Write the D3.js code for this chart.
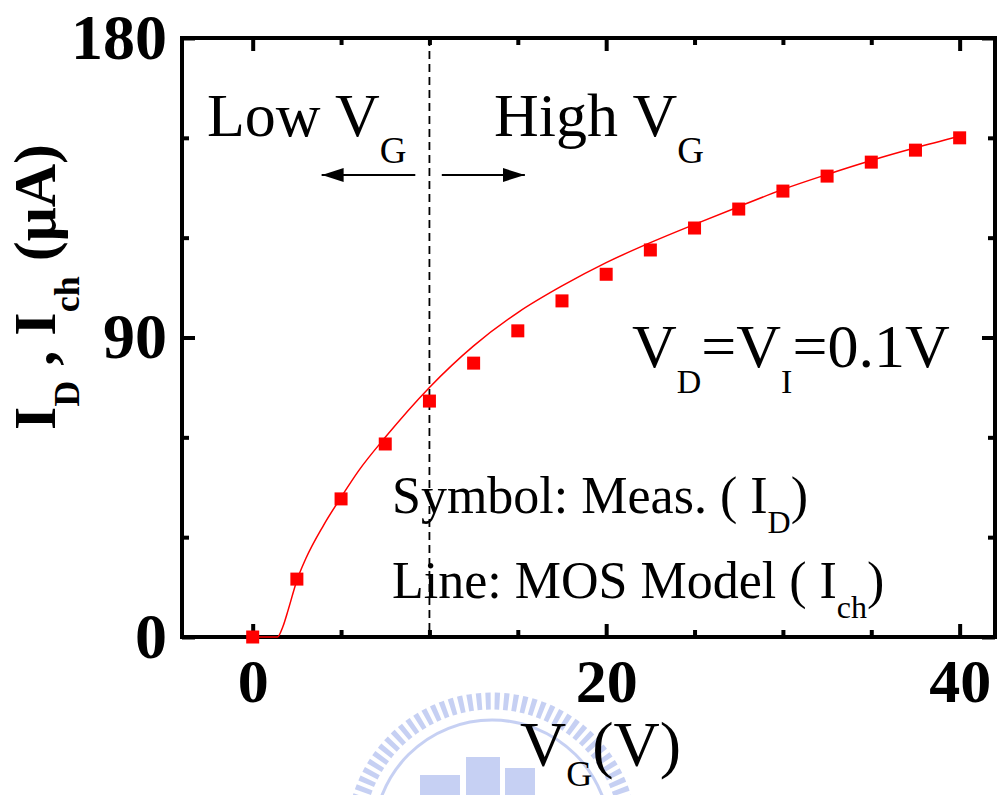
<!DOCTYPE html>
<html>
<head>
<meta charset="utf-8">
<script src="https://cdn.jsdelivr.net/npm/d3@7"></script>
<style>
  body { margin: 0; background: #fff; }
  svg { display: block; }
</style>
</head>
<body>
<svg id="chart"></svg>
<script>
// measured points (symbols)
const vgMeas = [0, 2.5, 5, 7.5, 10, 12.5, 15, 17.5, 20, 22.5, 25, 27.5, 30, 32.5, 35, 37.5, 40];
const idMeas = [0, 17.4, 41.5, 58, 70.9, 82.3, 92, 101, 109, 116.3, 122.9, 128.6, 134, 138.5, 142.7, 146.3, 150];

// MOS model line
const vgModel = [0, 1.4, 1.7, 2, 2.5, 3, 4, 5, 6, 7.5, 10, 12.5, 15, 17.5, 20, 22.5, 25, 27.5, 30, 32.5, 35, 37.5, 40];
const ichModel = [0, 0, 3, 8, 17, 23.5, 33.5, 42, 50, 60, 75, 87.5, 97.5, 105.5, 112.5, 118.5, 124, 129.3, 134.5, 139, 143.2, 147, 150.5];

const xMajor = [0, 20, 40];
const xMinor = [5, 10, 15, 25, 30, 35];
const yMajor = [0, 90, 180];
const yMinor = [30, 60, 120, 150];

const width = 998, height = 795;
const serif = '"Times New Roman", "Liberation Serif", serif';

const svg = d3.select('#chart').attr('width', width).attr('height', height)

const x = d3.scaleLinear().domain([-4, 42]).range([182, 995]);
const y = d3.scaleLinear().domain([0, 180]).range([637, 38]);

// watermark (faint logo behind the axis title)
const wm = svg.append('g').attr('opacity', 0.5)
wm.append('circle')
  .attr('cx', 492).attr('cy', 838).attr('r', 137)
  .attr('fill', 'none')
  .attr('stroke', '#8ea2e8')
  .attr('stroke-width', 17)
  .attr('stroke-dasharray', '5 4')
wm.append('circle')
  .attr('cx', 492).attr('cy', 838).attr('r', 118)
  .attr('fill', 'none')
  .attr('stroke', '#8ea2e8')
  .attr('stroke-width', 3)
;[[420, 775, 40, 20], [466, 757, 34, 38], [505, 768, 30, 27]].forEach(r => {
  wm.append('rect').attr('x', r[0]).attr('y', r[1]).attr('width', r[2]).attr('height', r[3])
    .attr('fill', '#8ea2e8')
})

// ticks (inward, all four sides)
function tickAxis(axis, vals, len, tr) {
  const g = svg.append('g').attr('transform', tr)
    .call(axis.tickValues(vals).tickSize(-len).tickFormat(''))
  g.select('.domain').remove()
  g.selectAll('line').attr('stroke', '#000').attr('stroke-width', 4)
  return g
}
tickAxis(d3.axisBottom(x), xMajor, 13, 'translate(0,637)')
tickAxis(d3.axisBottom(x), xMinor, 7, 'translate(0,637)')
tickAxis(d3.axisTop(x), xMajor, 13, 'translate(0,38)')
tickAxis(d3.axisTop(x), xMinor, 7, 'translate(0,38)')
tickAxis(d3.axisLeft(y), yMajor, 13, 'translate(182,0)')
tickAxis(d3.axisLeft(y), yMinor, 7, 'translate(182,0)')
tickAxis(d3.axisRight(y), yMajor, 13, 'translate(995,0)')
tickAxis(d3.axisRight(y), yMinor, 7, 'translate(995,0)')

// tick labels
const xl = svg.append('g').attr('transform', 'translate(0,637)')
  .call(d3.axisBottom(x).tickValues(xMajor).tickSize(0).tickPadding(21))
xl.select('.domain').remove()
xl.selectAll('text').attr('font-family', serif).attr('font-weight', 'bold')
  .attr('font-size', 62).attr('fill', '#000')

const yl = svg.append('g').attr('transform', 'translate(182,0)')
  .call(d3.axisLeft(y).tickValues(yMajor).tickSize(0).tickPadding(15))
yl.select('.domain').remove()
yl.selectAll('text').attr('font-family', serif).attr('font-weight', 'bold')
  .attr('font-size', 64).attr('fill', '#000')

// frame
svg.append('rect')
  .attr('x', 182).attr('y', 38)
  .attr('width', 995 - 182).attr('height', 637 - 38)
  .attr('fill', 'none').attr('stroke', '#000').attr('stroke-width', 4)

// dashed separator at VG = 10
svg.append('line')
  .attr('x1', x(10)).attr('x2', x(10))
  .attr('y1', y(180)).attr('y2', y(0))
  .attr('stroke', '#000').attr('stroke-width', 1.8)
  .attr('stroke-dasharray', '8 5')

// model line
const line = d3.line().x(d => x(d[0])).y(d => y(d[1])).curve(d3.curveMonotoneX)
svg.append('path')
  .datum(d3.zip(vgModel, ichModel))
  .attr('d', line)
  .attr('fill', 'none')
  .attr('stroke', '#ff0000')
  .attr('stroke-width', 1.5)

// measured symbols
svg.append('g').selectAll('rect')
  .data(d3.zip(vgMeas, idMeas))
  .enter()
  .append('rect')
  .attr('x', d => x(d[0]) - 6.5)
  .attr('y', d => y(d[1]) - 6.5)
  .attr('width', 13).attr('height', 13)
  .attr('fill', '#ff0000')

// arrows
svg.append('defs').append('marker')
  .attr('id', 'arr')
  .attr('viewBox', '0 0 22 14')
  .attr('refX', 22).attr('refY', 7)
  .attr('markerWidth', 22).attr('markerHeight', 14)
  .attr('markerUnits', 'userSpaceOnUse')
  .attr('orient', 'auto')
  .append('path').attr('d', 'M0,0 L22,7 L0,14 Z').attr('fill', '#000')

svg.append('line')
  .attr('x1', x(9.2)).attr('x2', x(3.9)).attr('y1', 175).attr('y2', 175)
  .attr('stroke', '#000').attr('stroke-width', 2).attr('marker-end', 'url(#arr)')
svg.append('line')
  .attr('x1', x(10.7)).attr('x2', x(15.4)).attr('y1', 175).attr('y2', 175)
  .attr('stroke', '#000').attr('stroke-width', 2).attr('marker-end', 'url(#arr)')

// text helper with subscripts: parts = [[text, isSub], ...]
function label(px, py, size, subSize, subDy, parts, opts = {}) {
  const t = svg.append('text')
    .attr('x', px).attr('y', py)
    .attr('font-family', serif)
    .attr('font-size', size)
    .attr('font-weight', opts.bold ? 'bold' : 'normal')
    .attr('fill', '#000')
  if (opts.rotate) t.attr('transform', `rotate(-90,${px},${py})`).attr('text-anchor', 'middle')
  let lastSub = false
  parts.forEach(p => {
    const s = t.append('tspan').text(p[0])
    if (p[1]) {
      s.attr('font-size', subSize).attr('dy', subDy)
    } else {
      s.attr('dy', lastSub ? -subDy : 0)
    }
    lastSub = p[1]
  })
  return t
}

label(207, 136, 62, 37, 27, [['Low V', false], ['G', true]])
label(494, 136, 62, 37, 27, [['High V', false], ['G', true]])
label(632, 367, 62, 34, 26, [['V', false], ['D', true], ['=V', false], ['I', true], ['=0.1V', false]])
label(392, 513, 52, 32, 20, [['Symbol: Meas. ( I', false], ['D', true], [')', false]])
label(392, 598, 52, 32, 20, [['Line: MOS Model ( I', false], ['ch', true], [')', false]])

// axis titles
label(520, 766, 64, 36, 20, [['V', false], ['G', true], ['(V)', false]])
label(55, 287, 60, 36, 24, [['I', false], ['D', true], [' , I', false], ['ch', true], [' (\u03bcA)', false]], {bold: true, rotate: true})
</script>
</body>
</html>
